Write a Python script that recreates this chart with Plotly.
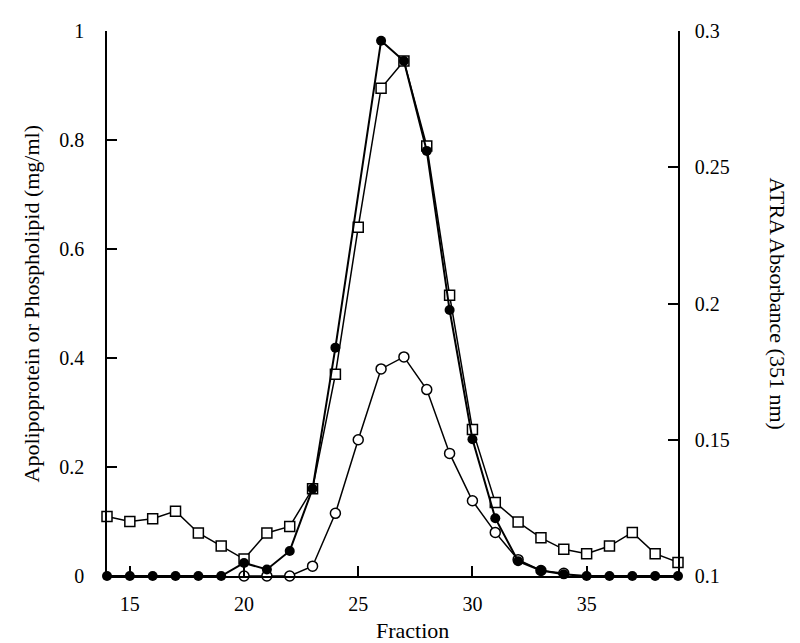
import plotly.graph_objects as go

fraction = list(range(14, 40))

# Filled circles (left axis, mg/ml); fraction 25 not plotted
filled_vals = [0, 0, 0, 0, 0, 0, 0.024, 0.012, 0.046, 0.16, 0.419, None, 0.982,
               0.945, 0.78, 0.488, 0.251, 0.106, 0.027, 0.01, 0.003, 0, 0, 0, 0, 0]

# Open circles (left axis, mg/ml), fractions 20-34
open_fraction = list(range(20, 35))
open_vals = [0, 0, 0, 0.018, 0.115, 0.25, 0.38, 0.402, 0.342, 0.225, 0.138,
             0.08, 0.03, 0.01, 0.005]

# Open squares (right axis, ATRA absorbance at 351 nm)
atra_vals = [0.1218, 0.120, 0.121, 0.1238, 0.1158, 0.111, 0.1062, 0.1158, 0.1182,
             0.132, 0.174, 0.228, 0.279, 0.289, 0.2578, 0.203, 0.1538, 0.127,
             0.1198, 0.114, 0.1098, 0.1082, 0.111, 0.116, 0.1082, 0.105]

x_ticks = [15, 20, 25, 30, 35]
left_ticks = [0, 0.2, 0.4, 0.6, 0.8, 1]
left_labels = ["0", "0.2", "0.4", "0.6", "0.8", "1"]
right_ticks = [0.1, 0.15, 0.2, 0.25, 0.3]
right_labels = ["0.1", "0.15", "0.2", "0.25", "0.3"]

FONT = "Liberation Serif, Times New Roman, serif"
TICKC = "black"

fig = go.Figure()

fig.add_trace(go.Scatter(
    x=fraction, y=atra_vals, yaxis="y", mode="lines+markers",
    line=dict(color="black", width=1.5),
    marker=dict(symbol="square", size=10, color="white",
                line=dict(color="black", width=1.5)),
    cliponaxis=False, showlegend=False))

fig.add_trace(go.Scatter(
    x=open_fraction, y=open_vals, yaxis="y2", mode="lines+markers",
    line=dict(color="black", width=1.5),
    marker=dict(symbol="circle", size=10, color="white",
                line=dict(color="black", width=1.5)),
    cliponaxis=False, showlegend=False))

fig.add_trace(go.Scatter(
    x=fraction, y=filled_vals, yaxis="y2", mode="lines+markers",
    connectgaps=True,
    line=dict(color="black", width=2),
    marker=dict(symbol="circle", size=10, color="black"),
    cliponaxis=False, showlegend=False))

fig.update_layout(
    width=792, height=635,
    margin=dict(l=99, r=122, t=13, b=67),
    paper_bgcolor="white", plot_bgcolor="white",
    font=dict(family=FONT, size=20, color="black"),
    xaxis=dict(range=[14, 39], tickvals=x_ticks, ticks="inside", ticklen=10,
               tickwidth=2, tickcolor=TICKC,
               showline=True, linecolor="black", linewidth=1.5,
               showgrid=False, zeroline=False, ticklabelstandoff=9,
               tickfont=dict(size=20)),
    yaxis=dict(range=[0.1, 0.3], side="right", tickvals=right_ticks,
               ticktext=right_labels, ticks="inside", ticklen=10,
               tickwidth=2, tickcolor=TICKC,
               showline=True, linecolor="black", linewidth=1.5,
               showgrid=False, zeroline=False, ticklabelstandoff=11,
               tickfont=dict(size=20)),
    yaxis2=dict(range=[0, 1], side="left", overlaying="y", anchor="x",
                tickvals=left_ticks, ticktext=left_labels, ticks="inside",
                ticklen=10, tickwidth=2, tickcolor=TICKC,
                showline=True, linecolor="black", linewidth=1.5,
                showgrid=False, zeroline=False, ticklabelstandoff=17,
                tickfont=dict(size=20)),
    annotations=[
        dict(text="Fraction", xref="paper", yref="paper", x=(412 - 107) / 571,
             y=0, yshift=-54, showarrow=False, font=dict(size=22),
             xanchor="center", yanchor="middle"),
        dict(text="Apolipoprotein or Phospholipid (mg/ml)", xref="paper",
             yref="paper", x=0, xshift=-76, y=0.5, textangle=-90,
             showarrow=False, font=dict(size=22), xanchor="center",
             yanchor="middle"),
        dict(text="ATRA Absorbance (351 nm)", xref="paper", yref="paper",
             x=1, xshift=99, y=0.5, textangle=90, showarrow=False,
             font=dict(size=22), xanchor="center", yanchor="middle"),
    ],
)

fig.write_html("out.html")
